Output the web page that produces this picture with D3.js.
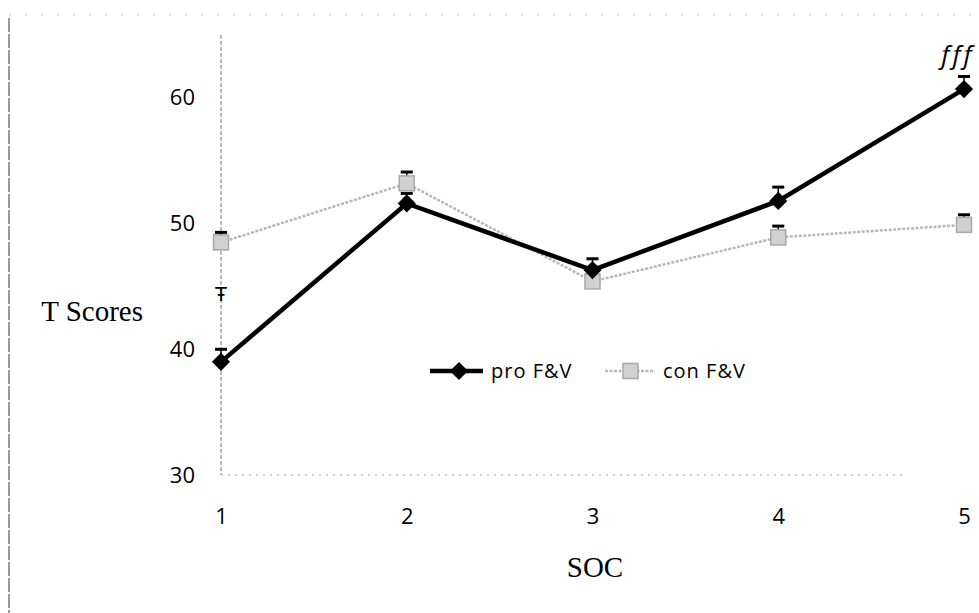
<!DOCTYPE html>
<html>
<head>
<meta charset="utf-8">
<script src="https://cdn.jsdelivr.net/npm/d3@7"></script>
<style>
  body { margin: 0; background: #fff; }
  svg { display: block; }
</style>
</head>
<body>
<div id="chart"></div>
<script>
// datos
const categories = ["1", "2", "3", "4", "5"];
const proValues = [39.0, 51.6, 46.3, 51.8, 60.7];
const proErrors = [1.0, 0.8, 0.9, 1.1, 1.0];
const conValues = [48.5, 53.2, 45.4, 48.9, 49.9];
const conErrors = [0.8, 0.9, 0.8, 0.9, 0.8];
const yTicks = [30, 40, 50, 60];

const W = 979, H = 613;
const svg = d3.select("#chart").append("svg")
  .attr("width", W).attr("height", H);

const x = d3.scalePoint().domain(categories).range([221, 964]);
const y = d3.scaleLinear().domain([30, 65]).range([475, 35]);

// marco del gráfico
svg.append("line")
  .attr("x1", 9).attr("x2", 9).attr("y1", 18).attr("y2", H)
  .attr("stroke", "#555").attr("stroke-width", 1.2)
  .attr("stroke-dasharray", "14,2");
svg.append("line")
  .attr("x1", 9).attr("x2", W).attr("y1", 15).attr("y2", 15)
  .attr("stroke", "#bbb").attr("stroke-width", 1)
  .attr("stroke-dasharray", "2,14");

// ejes
svg.append("line")
  .attr("x1", x("1")).attr("x2", x("1"))
  .attr("y1", y(65)).attr("y2", y(30))
  .attr("stroke", "#777").attr("stroke-width", 1)
  .attr("stroke-dasharray", "4,2");
svg.append("line")
  .attr("x1", x("1")).attr("x2", 905)
  .attr("y1", y(30)).attr("y2", y(30))
  .attr("stroke", "#aaa").attr("stroke-width", 1)
  .attr("stroke-dasharray", "2,5");

const yAxis = d3.axisLeft(y).tickValues(yTicks).tickSize(0).tickPadding(26);
const gy = svg.append("g").attr("transform", `translate(${x("1")},0)`).call(yAxis);
gy.select(".domain").remove();
gy.selectAll("text")
  .attr("font-family", "'Open Sans', sans-serif")
  .attr("font-size", 22).attr("fill", "#000");

const xAxis = d3.axisBottom(x).tickSize(0).tickPadding(33);
const gx = svg.append("g").attr("transform", `translate(0,${y(30)})`).call(xAxis);
gx.select(".domain").remove();
gx.selectAll("text")
  .attr("font-family", "'Open Sans', sans-serif")
  .attr("font-size", 22).attr("fill", "#000");

// títulos
svg.append("text")
  .attr("x", 143).attr("y", 321)
  .attr("text-anchor", "end")
  .attr("font-family", "'Liberation Serif', serif")
  .attr("font-size", 29)
  .text("T Scores");
svg.append("text")
  .attr("x", 595).attr("y", 577)
  .attr("text-anchor", "middle")
  .attr("font-family", "'Liberation Serif', serif")
  .attr("font-size", 29)
  .text("SOC");

const line = d3.line()
  .x((d, i) => x(categories[i]))
  .y(d => y(d));

// serie con F&V
svg.append("path")
  .datum(conValues)
  .attr("d", line)
  .attr("fill", "none")
  .attr("stroke", "#b8b8b8")
  .attr("stroke-width", 2.5)
  .attr("stroke-dasharray", "3,1.5");

// serie pro F&V
svg.append("path")
  .datum(proValues)
  .attr("d", line)
  .attr("fill", "none")
  .attr("stroke", "#000")
  .attr("stroke-width", 4.5);

// barras de error (solo hacia arriba)
function drawErrors(values, errors) {
  const g = svg.append("g");
  values.forEach((v, i) => {
    const cx = x(categories[i]);
    g.append("line")
      .attr("x1", cx).attr("x2", cx)
      .attr("y1", y(v)).attr("y2", y(v + errors[i]))
      .attr("stroke", "#000").attr("stroke-width", 1.5);
    g.append("line")
      .attr("x1", cx - 6).attr("x2", cx + 6)
      .attr("y1", y(v + errors[i])).attr("y2", y(v + errors[i]))
      .attr("stroke", "#000").attr("stroke-width", 3);
  });
}
drawErrors(conValues, conErrors);
drawErrors(proValues, proErrors);

// marcadores con F&V
svg.append("g").selectAll("rect")
  .data(conValues)
  .enter()
  .append("rect")
  .attr("x", (d, i) => x(categories[i]) - 7.5)
  .attr("y", d => y(d) - 7.5)
  .attr("width", 15).attr("height", 15)
  .attr("fill", "#d0d0d0")
  .attr("stroke", "#a8a8a8")
  .attr("stroke-width", 1.5);

// marcadores pro F&V (cuadrado girado 45°)
const diamond = d3.symbol().type(d3.symbolSquare).size(165);
svg.append("g").selectAll("path")
  .data(proValues)
  .enter()
  .append("path")
  .attr("d", diamond)
  .attr("transform", (d, i) => `translate(${x(categories[i])},${y(d)}) rotate(45)`)
  .attr("fill", "#000");

// anotaciones
svg.append("text")
  .attr("x", x("1")).attr("y", 301)
  .attr("text-anchor", "middle")
  .attr("font-family", "'DejaVu Sans', sans-serif")
  .attr("font-size", 19)
  .text("Ŧ");
svg.append("text")
  .attr("x", 958).attr("y", 64)
  .attr("text-anchor", "middle")
  .attr("font-family", "'Open Sans', sans-serif")
  .attr("font-style", "italic")
  .attr("font-size", 26)
  .attr("letter-spacing", 3)
  .text("fff");

// leyenda
const leg = svg.append("g").attr("transform", "translate(430,371)");
leg.append("line")
  .attr("x1", 0).attr("x2", 53).attr("y1", 0).attr("y2", 0)
  .attr("stroke", "#000").attr("stroke-width", 4.5);
leg.append("path")
  .attr("d", diamond)
  .attr("transform", "translate(29,0) rotate(45)")
  .attr("fill", "#000");
leg.append("text")
  .attr("x", 61).attr("y", 7)
  .attr("font-family", "'Open Sans', sans-serif")
  .attr("font-size", 20)
  .attr("letter-spacing", 1)
  .text("pro F&V");
leg.append("line")
  .attr("x1", 175).attr("x2", 225).attr("y1", 0).attr("y2", 0)
  .attr("stroke", "#b8b8b8").attr("stroke-width", 2.5)
  .attr("stroke-dasharray", "3,1.5");
leg.append("rect")
  .attr("x", 193).attr("y", -7.5).attr("width", 15).attr("height", 15)
  .attr("fill", "#d0d0d0").attr("stroke", "#a8a8a8").attr("stroke-width", 1.5);
leg.append("text")
  .attr("x", 233).attr("y", 7)
  .attr("font-family", "'Open Sans', sans-serif")
  .attr("font-size", 20)
  .attr("letter-spacing", 1)
  .text("con F&V");
</script>
</body>
</html>
